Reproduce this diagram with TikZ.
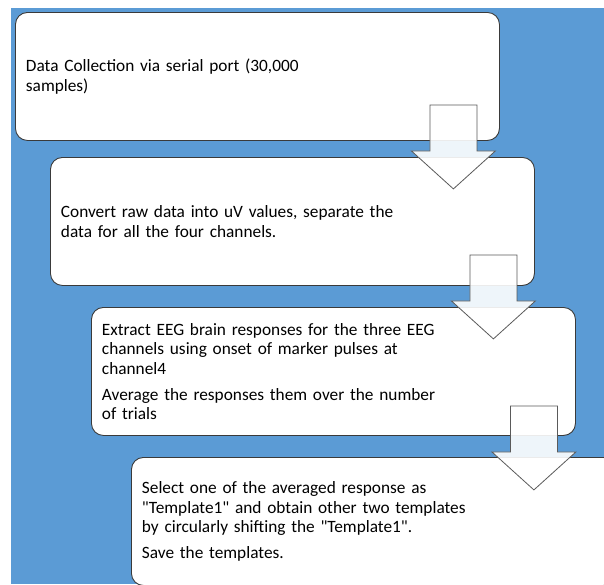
\documentclass[tikz,border=0pt]{standalone}
\usepackage{fontspec}
\setmainfont{Carlito}
\usepackage{tikz}
\usetikzlibrary{calc}
\definecolor{panelblue}{HTML}{5B9BD5}
\definecolor{boxline}{HTML}{3A3A3A}
\definecolor{arrowline}{HTML}{5A5A5A}
\tikzset{
	stepbox/.style={draw=boxline, line width=0.9pt, fill=white, rounded corners=12pt,
			anchor=north west, minimum width=484pt, minimum height=128pt,
			text width=463pt, inner xsep=10.5pt, align=left,
			font=\fontsize{17.3}{19.7}\selectfont}
}
\tikzset{
	downarrow/.pic={
			\draw[draw=arrowline, line width=0.8pt, fill=white, fill opacity=0.9, line join=miter]
			(-23.5,0) --
			(23.5,0) --
			(23.5,46) --
			(42,46) --
			(0,84) --
			(-42,46) --
			(-23.5,46) --
			cycle;
		}
}

\begin{document}
\begin{tikzpicture}[x=1pt, y=-1pt]

	\useasboundingbox (0,0) rectangle (604,584);
	\fill[panelblue] (11,8) rectangle (604,584);

	\begin{scope}
		\node[stepbox] (b1) at (15,12) {Data Collection via serial port (30,000\\samples)};
		\node[stepbox] (b2) at (50,157) {Convert raw data into uV values, separate the\\data for all the four channels.};
		\node[stepbox] (b3) at (91,307) {Extract EEG brain responses for the three EEG\\channels using onset of marker pulses at\\channel4\\[6pt]Average the responses them over the number\\of trials};
		\node[stepbox] (b4) at (131,457) {Select one of the averaged response as\\\textquotedbl Template1\textquotedbl{} and obtain other two templates\\by circularly shifting the \textquotedbl Template1\textquotedbl.\\[6pt]Save the templates.};
	\end{scope}

	\begin{scope}
		\coordinate (a1) at ($(b1.south east)+(-46.5,-36)$);
		\coordinate (a2) at ($(b2.south east)+(-41.5,-31)$);
		\coordinate (a3) at ($(b3.south east)+(-42,-30)$);

		\pic at (a1) {downarrow};
		\pic at (a2) {downarrow};
		\pic at (a3) {downarrow};
	\end{scope}

\end{tikzpicture}
\end{document}
